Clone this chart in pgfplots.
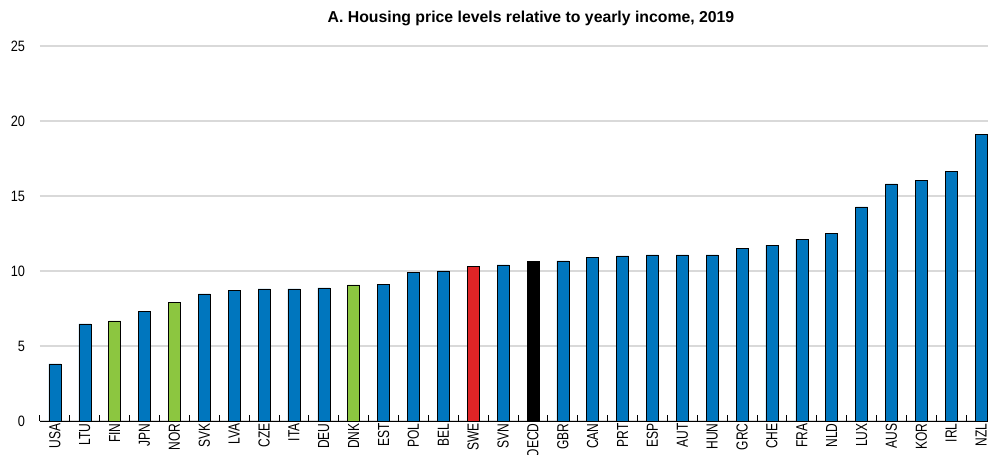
\documentclass[border=0pt]{standalone}
\usepackage{pgfplots}
\pgfplotsset{compat=1.18}
\usepackage{fontspec}
\setmainfont{Liberation Sans}
\newfontfamily\narrowfont{Liberation Sans}[FakeStretch=0.75]
\newfontfamily\ynarrowfont{Liberation Sans}[FakeStretch=0.85]
\definecolor{oblue}{RGB}{0,118,190}
\definecolor{ogreen}{RGB}{140,198,64}
\definecolor{ored}{RGB}{224,36,38}
\definecolor{ogrid}{RGB}{217,217,217}
\begin{document}
\begin{tikzpicture}
\begin{axis}[
  at={(0,0)}, anchor=south west,
  scale only axis, width=478pt, height=187.5pt,
  xmin=-0.5, xmax=31.5, ymin=0, ymax=25,
  ybar, bar width=6pt, bar shift=0pt,
  axis x line*=bottom, axis y line*=left,
  y axis line style={draw=none},
  x axis line style={black, line width=0.5pt},
  xtick={0,...,31}, major x tick style={draw=none},
  minor xtick={-0.5,0.5,...,31.5},
  minor x tick style={black, line width=0.5pt},
  minor tick length=3pt, tick align=inside,
  xticklabels={USA,LTU,FIN,JPN,NOR,SVK,LVA,CZE,ITA,DEU,DNK,EST,POL,BEL,SWE,SVN,OECD,GBR,CAN,PRT,ESP,AUT,HUN,GRC,CHE,FRA,NLD,LUX,AUS,KOR,IRL,NZL},
  xticklabel style={rotate=90, anchor=east, font=\narrowfont\fontsize{8}{9}\selectfont, inner sep=1pt},
  ytick={0,5,...,25}, ytick style={draw=none},
  yticklabel style={font=\ynarrowfont\fontsize{7.5}{8}\selectfont, anchor=east, xshift=-4pt},
  /pgf/number format/assume math mode=true,
  ymajorgrids, grid style={ogrid, line width=0.75pt},
  axis on top=false,
]
\addplot[fill=oblue, draw=black, line width=0.3pt] coordinates {
(0,3.8) (1,6.47) (3,7.3) (5,8.47) (6,8.73) (7,8.8) (8,8.8) (9,8.87) (11,9.13) (12,9.93) (13,10.0) (15,10.4) (17,10.67) (18,10.93) (19,11.0) (20,11.07) (21,11.07) (22,11.07) (23,11.53) (24,11.73) (25,12.13) (26,12.53) (27,14.27) (28,15.8) (29,16.03) (30,16.63) (31,19.13)};
\addplot[fill=ogreen, draw=black, line width=0.3pt] coordinates {(2,6.67) (4,7.93) (10,9.07)};
\addplot[fill=ored, draw=black, line width=0.3pt] coordinates {(14,10.33)};
\addplot[fill=black, draw=black, line width=0.3pt] coordinates {(16,10.67)};
\end{axis}
\node[font=\bfseries\fontsize{7.9}{9}\selectfont] at (245.5pt,201.5pt) {A. Housing price levels relative to yearly income, 2019};
\pgfresetboundingbox
\path[use as bounding box] (-20pt,-16.5pt) rectangle (474pt,210.5pt);
\end{tikzpicture}
\end{document}
